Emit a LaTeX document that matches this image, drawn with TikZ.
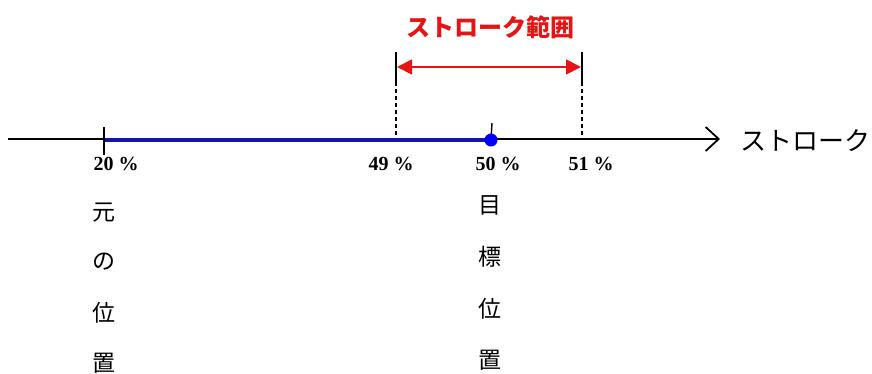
\documentclass[tikz,border=0pt]{standalone}
\usepackage{fontspec}
\setmainfont{Liberation Serif}
\newfontfamily\jpfont{Noto Sans CJK JP}
\usetikzlibrary{arrows.meta}
\definecolor{rangered}{RGB}{230,20,20}
\definecolor{trackblue}{RGB}{20,20,170}
\begin{document}
\begin{tikzpicture}[x=1pt,y=-1pt,
  pct/.style={font=\bfseries\fontsize{20}{20}\selectfont, inner sep=0pt},
  jp/.style={font=\jpfont\fontsize{23}{23}\selectfont, inner sep=0pt},
  tickline/.style={line width=1.4pt, black},
  guide/.style={line width=1.3pt, black}]
\useasboundingbox (0,0) rectangle (872,373);
% axis
\coordinate (a0) at (8,139);
\coordinate (a1) at (720,139);
\draw[line width=1.3pt, -{Straight Barb[length=13pt,width=24pt,line width=1.8pt]}] (a0) -- (a1);
\node[jp, font=\jpfont\fontsize{26}{26}\selectfont, anchor=west] (axl) at (740,141) {ストローク};
% blue segment
\coordinate (b0) at (104,140);
\coordinate (b1) at (491,140);
\draw[trackblue, line width=3.5pt] (b0) -- (b1);
% ticks
\coordinate (t20a) at (104,127);
\coordinate (t20b) at (104,155);
\draw[tickline] (t20a) -- (t20b);
\coordinate (t50a) at (492,123);
\draw[tickline] (t50a) -- (b1);
\fill[blue] (b1) circle (6.5);
% guides
\coordinate (g49a) at (396,52);
\coordinate (g49m) at (396,82);
\coordinate (g49b) at (396,136);
\coordinate (g51a) at (582,52);
\coordinate (g51m) at (582,82);
\coordinate (g51b) at (582,137);
\draw[guide] (g49a) -- (g49m);
\draw[guide, dashed, dash pattern=on 4pt off 3pt] (g49m) -- (g49b);
\draw[guide] (g51a) -- (g51m);
\draw[guide, dashed, dash pattern=on 4pt off 3pt] (g51m) -- (g51b);
% red range arrow
\coordinate (r0) at (397,67);
\coordinate (r1) at (581,67);
\draw[rangered, line width=1.8pt, {Triangle[length=15pt,width=15pt]}-{Triangle[length=15pt,width=15pt]}] (r0) -- (r1);
\node[font=\jpfont\bfseries\fontsize{24}{24}\selectfont, text=rangered, inner sep=0pt] (title) at (490,27) {ストローク範囲};
% percent labels
\node[pct] (p20) at (116,164) {20 \%};
\node[pct] (p49) at (391,164) {49 \%};
\node[pct] (p50) at (498,164) {50 \%};
\node[pct] (p51) at (591,164) {51 \%};
% vertical labels
\node[jp] (o1) at (104,213) {元};
\node[jp] (o2) at (104,262) {の};
\node[jp] (o3) at (104,313) {位};
\node[jp] (o4) at (104,363) {置};
\node[jp] (m1) at (490,205) {目};
\node[jp] (m2) at (490,257) {標};
\node[jp] (m3) at (490,309) {位};
\node[jp] (m4) at (490,360) {置};
\end{tikzpicture}
\end{document}
